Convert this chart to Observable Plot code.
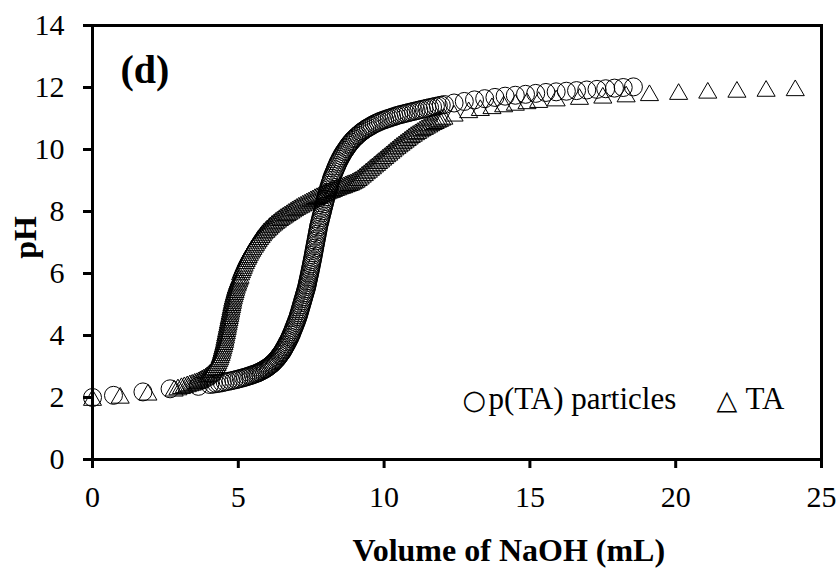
<!DOCTYPE html>
<html>
<head>
<meta charset="utf-8">
<script src="https://cdn.jsdelivr.net/npm/d3@7"></script>
<script src="https://cdn.jsdelivr.net/npm/@observablehq/plot@0.6"></script>
<style>
  body { margin: 0; background: #fff; }
  #chart svg { display: block; }
</style>
</head>
<body>
<div id="chart"></div>
<script>
// ---- data ----
const seriesNames = ["p(TA) particles", "TA"];
const xTicks = [0, 5, 10, 15, 20, 25];
const yTicks = [0, 2, 4, 6, 8, 10, 12, 14];
const xTitle = "Volume of NaOH (mL)";
const yTitle = "pH";
const panelLabel = "(d)";

// p(TA) particles (circles)
const particlesVolume = [
  0.00, 0.72, 1.73, 2.66, 3.63,
  4.02, 4.14, 4.25, 4.35, 4.45, 4.55, 4.65, 4.75, 4.85, 4.94,
  5.02, 5.10, 5.18, 5.25, 5.32, 5.39, 5.45, 5.51, 5.57, 5.63,
  5.68, 5.73, 5.78, 5.83, 5.88, 5.93, 5.97, 6.02, 6.06, 6.10,
  6.14, 6.18, 6.22, 6.26, 6.30, 6.34, 6.37, 6.41, 6.44, 6.48,
  6.51, 6.54, 6.57, 6.60, 6.63, 6.66, 6.69, 6.72, 6.75, 6.78,
  6.80, 6.83, 6.85, 6.88, 6.90, 6.93, 6.95, 6.98, 7.00, 7.03,
  7.05, 7.07, 7.09, 7.11, 7.13, 7.15, 7.17, 7.19, 7.21, 7.23,
  7.25, 7.27, 7.29, 7.31, 7.33, 7.35, 7.36, 7.38, 7.39, 7.41,
  7.42, 7.44, 7.45, 7.47, 7.48, 7.50, 7.51, 7.53, 7.54, 7.56,
  7.57, 7.59, 7.60, 7.62, 7.63, 7.65, 7.66, 7.68, 7.69, 7.71,
  7.72, 7.74, 7.75, 7.77, 7.79, 7.81, 7.83, 7.85, 7.87, 7.89,
  7.91, 7.93, 7.95, 7.97, 7.99, 8.01, 8.03, 8.05, 8.08, 8.10,
  8.13, 8.15, 8.18, 8.20, 8.23, 8.26, 8.29, 8.32, 8.35, 8.38,
  8.41, 8.44, 8.48, 8.51, 8.55, 8.58, 8.62, 8.66, 8.70, 8.74,
  8.78, 8.82, 8.87, 8.91, 8.96, 9.01, 9.06, 9.11, 9.17, 9.22,
  9.28, 9.34, 9.40, 9.46, 9.53, 9.59, 9.66, 9.73, 9.80, 9.87,
  9.95, 10.02, 10.10, 10.18, 10.26, 10.34, 10.42, 10.50, 10.58, 10.66,
  10.75, 10.83, 10.92, 11.01, 11.10, 11.19, 11.28, 11.37, 11.47, 11.56,
  11.66, 11.76, 11.86, 11.96, 12.07,
  12.40, 12.75, 13.10, 13.45, 13.80, 14.15, 14.50, 14.85, 15.20, 15.55,
  15.90, 16.25, 16.60, 16.95, 17.30, 17.60, 17.90, 18.20, 18.55
];
const particlesPH = [
  2.00, 2.07, 2.18, 2.28, 2.36,
  2.42, 2.43, 2.45, 2.46, 2.48, 2.50, 2.52, 2.54, 2.56, 2.58,
  2.60, 2.62, 2.64, 2.66, 2.68, 2.70, 2.72, 2.74, 2.76, 2.78,
  2.80, 2.82, 2.85, 2.87, 2.90, 2.92, 2.95, 2.98, 3.01, 3.04,
  3.07, 3.10, 3.14, 3.18, 3.22, 3.26, 3.30, 3.35, 3.39, 3.44,
  3.48, 3.53, 3.58, 3.63, 3.68, 3.73, 3.79, 3.84, 3.90, 3.95,
  4.01, 4.06, 4.12, 4.18, 4.24, 4.30, 4.36, 4.42, 4.48, 4.55,
  4.61, 4.67, 4.73, 4.80, 4.86, 4.93, 4.99, 5.06, 5.12, 5.19,
  5.25, 5.32, 5.38, 5.45, 5.51, 5.58, 5.64, 5.71, 5.77, 5.84,
  5.90, 5.97, 6.03, 6.10, 6.17, 6.24, 6.31, 6.38, 6.45, 6.52,
  6.60, 6.67, 6.75, 6.82, 6.90, 6.97, 7.05, 7.12, 7.20, 7.27,
  7.35, 7.42, 7.50, 7.57, 7.65, 7.72, 7.80, 7.87, 7.95, 8.02,
  8.10, 8.17, 8.25, 8.32, 8.40, 8.47, 8.55, 8.62, 8.70, 8.77,
  8.85, 8.92, 9.00, 9.07, 9.14, 9.21, 9.28, 9.35, 9.42, 9.48,
  9.55, 9.61, 9.68, 9.74, 9.80, 9.86, 9.92, 9.97, 10.03, 10.08,
  10.14, 10.19, 10.24, 10.29, 10.34, 10.38, 10.43, 10.47, 10.52, 10.56,
  10.60, 10.64, 10.68, 10.71, 10.75, 10.78, 10.82, 10.85, 10.88, 10.91,
  10.94, 10.96, 10.99, 11.01, 11.04, 11.06, 11.09, 11.11, 11.13, 11.15,
  11.17, 11.19, 11.21, 11.23, 11.25, 11.27, 11.29, 11.31, 11.33, 11.35,
  11.37, 11.39, 11.41, 11.43, 11.45,
  11.50, 11.55, 11.60, 11.64, 11.68, 11.72, 11.75, 11.78, 11.81, 11.84,
  11.86, 11.88, 11.90, 11.92, 11.94, 11.96, 11.98, 12.00, 12.02
];

// TA (triangles)
const taVolume = [
  0.00, 0.95, 1.90,
  2.80, 2.93, 3.05, 3.15, 3.25, 3.34, 3.42, 3.50, 3.57, 3.64,
  3.70, 3.76, 3.82, 3.88, 3.93, 3.98, 4.03, 4.08, 4.12, 4.16,
  4.20, 4.24, 4.27, 4.30, 4.33, 4.36, 4.38, 4.41, 4.43, 4.45,
  4.47, 4.49, 4.51, 4.53, 4.54, 4.56, 4.57, 4.59, 4.60, 4.62,
  4.63, 4.65, 4.66, 4.68, 4.69, 4.71, 4.72, 4.74, 4.75, 4.77,
  4.78, 4.80, 4.81, 4.83, 4.85, 4.87, 4.89, 4.91, 4.93, 4.96,
  4.98, 5.01, 5.03, 5.06, 5.08, 5.11, 5.14, 5.17, 5.20, 5.24,
  5.27, 5.31, 5.34, 5.38, 5.42, 5.46, 5.50, 5.55, 5.59, 5.64,
  5.68, 5.73, 5.78, 5.83, 5.88, 5.94, 5.99, 6.05, 6.10, 6.16,
  6.22, 6.28, 6.34, 6.41, 6.47, 6.54, 6.60, 6.67, 6.73, 6.80,
  6.86, 6.93, 7.00, 7.07, 7.14, 7.21, 7.28, 7.35, 7.42, 7.49,
  7.56, 7.63, 7.70, 7.77, 7.84, 7.91, 7.98, 8.05, 8.12, 8.19,
  8.26, 8.33, 8.40, 8.47, 8.54, 8.61, 8.68, 8.74, 8.80, 8.86,
  8.92, 8.98, 9.04, 9.11, 9.18, 9.25, 9.32, 9.39, 9.46, 9.53,
  9.60, 9.67, 9.74, 9.81, 9.88, 9.95, 10.02, 10.09, 10.16, 10.23,
  10.30, 10.37, 10.44, 10.51, 10.58, 10.65, 10.72, 10.79, 10.86, 10.93,
  11.00, 11.08, 11.15, 11.23, 11.30, 11.38, 11.45, 11.53, 11.60, 11.68,
  11.75, 11.83, 11.90, 11.98, 12.05,
  12.40, 12.90, 13.30, 13.70, 14.10, 14.50, 14.90, 15.30, 15.90,
  16.70, 17.50, 18.30, 19.10, 20.10, 21.10, 22.10, 23.10, 24.10
];
const taPH = [
  2.00, 2.07, 2.17,
  2.30, 2.34, 2.38, 2.41, 2.44, 2.47, 2.49, 2.52, 2.54, 2.57,
  2.60, 2.63, 2.66, 2.69, 2.73, 2.77, 2.81, 2.85, 2.90, 2.95,
  3.00, 3.06, 3.12, 3.18, 3.25, 3.31, 3.38, 3.45, 3.52, 3.59,
  3.66, 3.73, 3.80, 3.87, 3.94, 4.01, 4.08, 4.15, 4.22, 4.29,
  4.36, 4.43, 4.50, 4.57, 4.64, 4.71, 4.78, 4.85, 4.92, 4.99,
  5.06, 5.13, 5.20, 5.27, 5.34, 5.41, 5.48, 5.55, 5.62, 5.69,
  5.75, 5.82, 5.88, 5.94, 6.05, 6.12, 6.19, 6.26, 6.33, 6.41,
  6.48, 6.55, 6.61, 6.68, 6.75, 6.81, 6.87, 6.94, 7.00, 7.07,
  7.13, 7.19, 7.25, 7.31, 7.37, 7.42, 7.47, 7.52, 7.57, 7.62,
  7.66, 7.71, 7.75, 7.80, 7.84, 7.88, 7.92, 7.96, 8.00, 8.04,
  8.08, 8.12, 8.16, 8.20, 8.23, 8.27, 8.30, 8.34, 8.37, 8.41,
  8.44, 8.48, 8.51, 8.54, 8.57, 8.60, 8.63, 8.66, 8.69, 8.71,
  8.74, 8.77, 8.79, 8.82, 8.84, 8.86, 8.89, 8.91, 8.93, 8.95,
  8.98, 9.01, 9.04, 9.09, 9.14, 9.20, 9.25, 9.31, 9.36, 9.42,
  9.47, 9.53, 9.58, 9.64, 9.69, 9.75, 9.80, 9.86, 9.91, 9.97,
  10.02, 10.08, 10.13, 10.18, 10.23, 10.28, 10.33, 10.38, 10.43, 10.48,
  10.52, 10.57, 10.61, 10.66, 10.70, 10.74, 10.78, 10.82, 10.86, 10.90,
  10.93, 10.97, 11.00, 11.04, 11.07,
  11.17, 11.28, 11.35, 11.41, 11.47, 11.52, 11.57, 11.61, 11.66,
  11.71, 11.75, 11.79, 11.83, 11.87, 11.91, 11.94, 11.97, 11.99
];

// ---- build tables ----
const particles = particlesVolume.map((v, i) => ({ volume: v, pH: particlesPH[i], series: seriesNames[0] }));
const ta = taVolume.map((v, i) => ({ volume: v, pH: taPH[i], series: seriesNames[1] }));

// Excel-like open triangle, centred on its bounding box
const triangle = {
  draw(context, size) {
    const r = Math.sqrt(size / Math.PI);
    const s = 2.7 * r;
    const h = s * Math.sqrt(3) / 2;
    context.moveTo(0, -h / 2);
    context.lineTo(s / 2, h / 2);
    context.lineTo(-s / 2, h / 2);
    context.closePath();
  }
};

const serif = "'Liberation Serif', 'Times New Roman', Times, serif";

const chart = Plot.plot({
  width: 839,
  height: 569,
  marginLeft: 92,
  marginRight: 18,
  marginTop: 25,
  marginBottom: 110,
  style: { fontFamily: serif, fontSize: "30px", color: "#000", background: "#fff", overflow: "visible" },
  x: { domain: [0, 25] },
  y: { domain: [0, 14] },
  marks: [
    Plot.axisX(xTicks, { tickSize: 9, strokeWidth: 3, tickPadding: 17, label: null, fontSize: 30 }),
    Plot.axisY(yTicks, { tickSize: 9, strokeWidth: 3, tickPadding: 19, label: null, fontSize: 30 }),
    Plot.frame({ stroke: "#000", strokeWidth: 3 }),
    Plot.dot(ta, { x: "volume", y: "pH", r: 6.7, symbol: triangle, stroke: "#000", fill: "none", strokeWidth: 1 }),
    Plot.dot(particles, { x: "volume", y: "pH", r: 9, symbol: "circle", stroke: "#000", fill: "none", strokeWidth: 1 }),
    // panel label
    Plot.text([panelLabel], { frameAnchor: "top-left", textAnchor: "start", lineAnchor: "bottom", dx: 28, dy: 57, fontSize: 40, fontWeight: "bold", fontFamily: serif }),
    // legend (inside plot)
    Plot.text(["○"], { frameAnchor: "top-left", textAnchor: "start", lineAnchor: "bottom", dx: 370, dy: 383, fontSize: 27, fontFamily: "'DejaVu Sans', sans-serif" }),
    Plot.text([seriesNames[0]], { frameAnchor: "top-left", textAnchor: "start", lineAnchor: "bottom", dx: 396, dy: 383, fontSize: 31, fontFamily: serif }),
    Plot.text(["△"], { frameAnchor: "top-left", textAnchor: "start", lineAnchor: "bottom", dx: 624, dy: 383, fontSize: 27, fontFamily: "'DejaVu Sans', sans-serif" }),
    Plot.text([seriesNames[1]], { frameAnchor: "top-left", textAnchor: "start", lineAnchor: "bottom", dx: 653, dy: 383, fontSize: 31, fontFamily: serif }),
    // axis titles
    Plot.text([xTitle], { frameAnchor: "bottom-left", textAnchor: "start", lineAnchor: "bottom", dx: 260, dy: 101, fontSize: 32, fontWeight: "bold", fontFamily: serif }),
    Plot.text([yTitle], { frameAnchor: "left", textAnchor: "middle", lineAnchor: "bottom", dx: -57, dy: -5, rotate: -90, fontSize: 32, fontWeight: "bold", fontFamily: serif })
  ]
});

document.getElementById("chart").appendChild(chart);
</script>
</body>
</html>
